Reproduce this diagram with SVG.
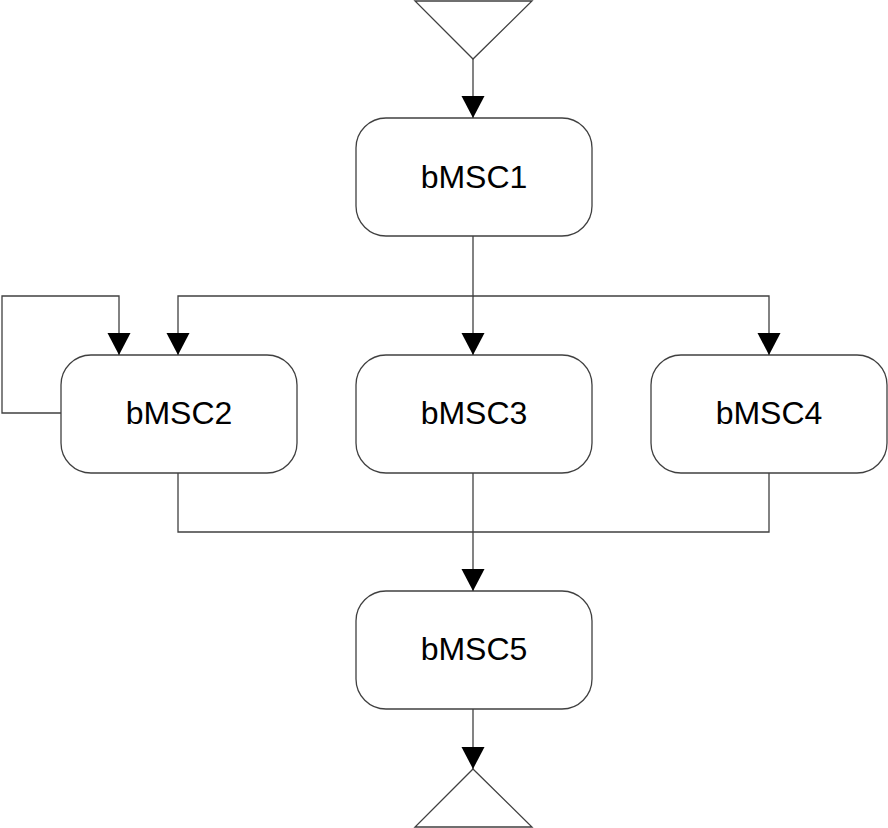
<svg xmlns="http://www.w3.org/2000/svg" width="888" height="828" viewBox="0 0 888 828">
<style>
.box{fill:#fff;stroke:#404040;stroke-width:1.3}
.lbl{font-family:"Liberation Sans",Arial,sans-serif;font-size:32px;fill:#000;text-anchor:middle}
.con{fill:none;stroke:#404040;stroke-width:1.3}
.term{fill:#fff;stroke:#404040;stroke-width:1.3}
</style>
<defs>
<marker id="ah" markerUnits="userSpaceOnUse" markerWidth="24" markerHeight="24" viewBox="0 0 24 24" refX="22" refY="11.5" orient="auto">
<path d="M0,0 L22,11.5 L0,23 Z" fill="#000"/>
</marker>
</defs>
<rect width="888" height="828" fill="#fff"/>
<g id="start"><polygon class="term" points="415,1 532,1 473,59"/></g>
<g id="end"><polygon class="term" points="473,769 532,827 415,827"/></g>
<g id="n1"><rect class="box" x="356" y="118" width="236" height="118" rx="30"/><text class="lbl" x="474" y="188">bMSC1</text></g>
<g id="n2"><rect class="box" x="61" y="355" width="236" height="118" rx="30"/><text class="lbl" x="179" y="424">bMSC2</text></g>
<g id="n3"><rect class="box" x="356" y="355" width="236" height="118" rx="30"/><text class="lbl" x="474" y="424">bMSC3</text></g>
<g id="n4"><rect class="box" x="651" y="355" width="236" height="118" rx="30"/><text class="lbl" x="769" y="424">bMSC4</text></g>
<g id="n5"><rect class="box" x="356" y="591" width="236" height="118" rx="30"/><text class="lbl" x="474" y="660">bMSC5</text></g>
<g id="connectors">
<path class="con" d="M473,59 V118" marker-end="url(#ah)"/>
<path class="con" d="M473,236 V296 H178 V355" marker-end="url(#ah)"/>
<path class="con" d="M473,296 V355" marker-end="url(#ah)"/>
<path class="con" d="M473,296 H769 V355" marker-end="url(#ah)"/>
<path class="con" d="M61,413 H2 V296 H119 V355" marker-end="url(#ah)"/>
<path class="con" d="M178,473 V532 H769 V473"/>
<path class="con" d="M473,473 V591" marker-end="url(#ah)"/>
<path class="con" d="M473,709 V769" marker-end="url(#ah)"/>
</g>
</svg>
